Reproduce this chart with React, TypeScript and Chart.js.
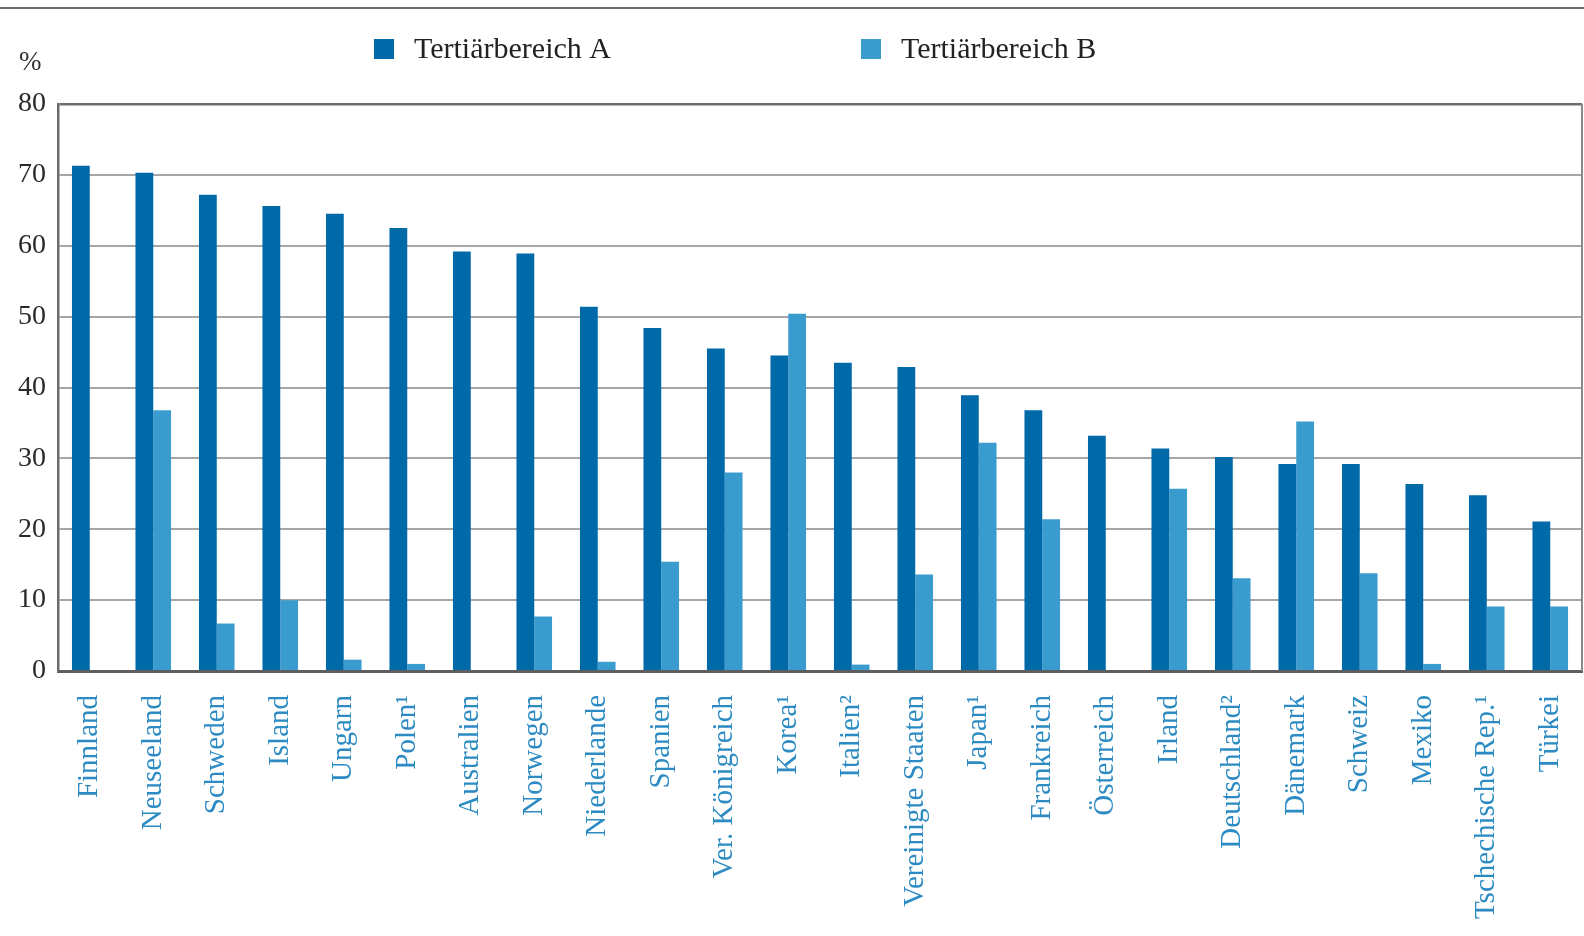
import React, { useEffect, useRef } from "react";
import { Chart, registerables } from "chart.js";

Chart.register(...registerables);

const categories = [
  "Finnland", "Neuseeland", "Schweden", "Island", "Ungarn", "Polen¹", "Australien",
  "Norwegen", "Niederlande", "Spanien", "Ver. Königreich", "Korea¹", "Italien²",
  "Vereinigte Staaten", "Japan¹", "Frankreich", "Österreich", "Irland", "Deutschland²",
  "Dänemark", "Schweiz", "Mexiko", "Tschechische Rep.¹", "Türkei",
];

const tertiaryA = [
  71.3, 70.3, 67.2, 65.6, 64.5, 62.5, 59.2, 58.9, 51.4, 48.4, 45.5, 44.5,
  43.5, 42.9, 38.9, 36.8, 33.2, 31.4, 30.2, 29.2, 29.2, 26.4, 24.8, 21.1,
];

const tertiaryB = [
  null, 36.8, 6.7, 10.0, 1.6, 1.0, null, 7.7, 1.3, 15.4, 28.0, 50.4,
  0.9, 13.6, 32.2, 21.4, null, 25.7, 13.1, 35.2, 13.8, 1.0, 9.1, 9.1,
];

const seriesLabels = ["Tertiärbereich A", "Tertiärbereich B"];
const yTicks = [0, 10, 20, 30, 40, 50, 60, 70, 80];

const DARK = "#0069a7";
const LIGHT = "#3a9bcf";
const SERIF = "'Liberation Serif', 'DejaVu Serif', serif";

const decorPlugin = {
  id: "decor",
  afterDraw(chart: any) {
    const { ctx, chartArea } = chart;
    ctx.save();
    // top rule
    ctx.strokeStyle = "#6a6a6a";
    ctx.lineWidth = 2;
    ctx.beginPath();
    ctx.moveTo(0, 8);
    ctx.lineTo(chart.width, 8);
    ctx.stroke();
    // right border
    ctx.strokeStyle = "#8a8a8a";
    ctx.lineWidth = 2;
    ctx.beginPath();
    ctx.moveTo(chartArea.right, chartArea.top);
    ctx.lineTo(chartArea.right, chartArea.bottom);
    ctx.stroke();
    // percent sign
    ctx.fillStyle = "#333";
    ctx.font = `27px ${SERIF}`;
    ctx.textAlign = "left";
    ctx.textBaseline = "middle";
    ctx.fillText("%", 19, 63);
    // legend
    const xs = [374, 861];
    chart.data.datasets.forEach((ds: any, i: number) => {
      ctx.fillStyle = ds.backgroundColor;
      ctx.fillRect(xs[i], 39, 20, 20);
      ctx.fillStyle = "#222";
      ctx.font = `30px ${SERIF}`;
      ctx.textBaseline = "middle";
      ctx.fillText(ds.label, xs[i] + 40, 50);
    });
    ctx.restore();
  },
};

export default function App() {
  const ref = useRef<HTMLCanvasElement>(null);
  useEffect(() => {
    document.body.style.margin = "0";
    const chart = new Chart(ref.current!, {
      type: "bar",
      data: {
        labels: categories,
        datasets: [
          { label: seriesLabels[0], data: tertiaryA, backgroundColor: DARK, categoryPercentage: 0.56, barPercentage: 1 },
          { label: seriesLabels[1], data: tertiaryB as any, backgroundColor: LIGHT, categoryPercentage: 0.56, barPercentage: 1 },
        ],
      },
      options: {
        animation: false,
        responsive: false,
        layout: { padding: { top: 104, left: 0, right: 2, bottom: 0 } },
        plugins: { legend: { display: false }, tooltip: { enabled: false } },
        scales: {
          x: {
            grid: { display: false },
            border: { display: true, color: "#5e5e5e", width: 3 },
            ticks: {
              minRotation: 90,
              maxRotation: 90,
              padding: 16,
              color: "#2c8bc3",
              font: { family: SERIF, size: 29 },
              autoSkip: false,
            },
            afterFit: (s: any) => { s.height = 265; s.paddingLeft = 0; s.paddingRight = 0; },
          },
          y: {
            min: 0,
            max: 80,
            afterBuildTicks: (s: any) => { s.ticks = yTicks.map((v) => ({ value: v })); },
            grid: {
              color: (c: any) => (c.tick && c.tick.value === 80 ? "#6e6e6e" : "#a6a6a6"),
              lineWidth: (c: any) => (c.tick && c.tick.value === 80 ? 2.5 : 2),
              drawTicks: false,
            },
            border: { display: true, color: "#6a6a6a", width: 2.5 },
            ticks: {
              padding: 12,
              color: "#2a2a2a",
              font: { family: SERIF, size: 28 },
            },
            afterFit: (s: any) => { s.width = 58; },
          },
        },
      },
      plugins: [decorPlugin],
    });
    return () => chart.destroy();
  }, []);
  return <canvas ref={ref} width={1584} height={936} style={{ display: "block" }} />;
}
